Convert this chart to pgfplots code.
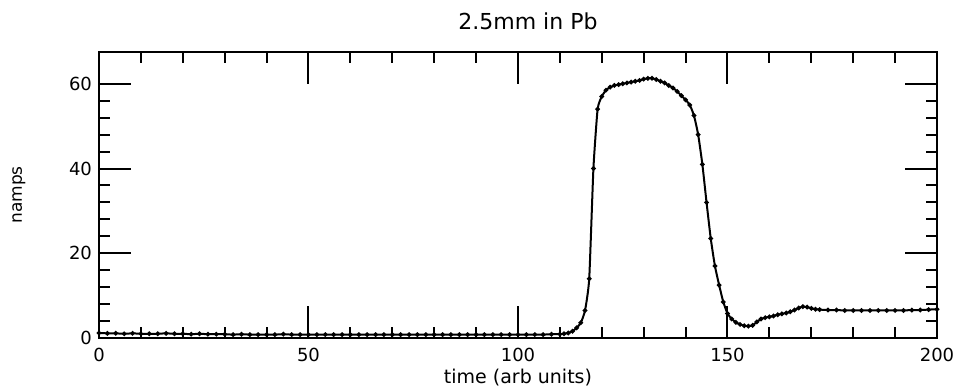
\documentclass[border=0pt]{standalone}
\usepackage{pgfplots}
\pgfplotsset{compat=1.18}
\usepackage{fontspec}
\setmainfont{DejaVu Sans}
\begin{document}
\begin{tikzpicture}
\useasboundingbox (-49.5pt,-25pt) rectangle (430.5pt,169pt);
\begin{axis}[
  scale only axis, width=419pt, height=143pt,
  at={(0pt,0pt)}, anchor=south west,
  xmin=0, xmax=200, ymin=0, ymax=67.5,
  xtick={0,50,100,150,200}, minor x tick num=4,
  ytick={0,20,40,60}, minor y tick num=4,
  major tick length=16pt, minor tick length=5.5pt,
  tick style={line width=1pt, black},
  axis line style={line width=1pt},
  tick align=inside,
  /pgf/number format/assume math mode=true,
  xticklabel style={font=\fontsize{9}{10}\selectfont, anchor=center, yshift=-8.5pt},
  yticklabel style={font=\fontsize{9}{10}\selectfont},
  clip=false,
]
\addplot[black, line width=1pt, smooth, tension=0.3, mark=*, mark size=0.6pt] table {
x y
0 1.2
2 1.1
4 1.1
6 1.0
8 1.1
10 1.0
12 1.0
14 1.0
16 1.1
18 1.0
20 1.0
22 0.9
24 1.0
26 0.9
28 0.9
30 0.9
32 0.8
34 0.9
36 0.8
38 0.8
40 0.8
42 0.8
44 0.9
46 0.8
48 0.8
50 0.8
52 0.8
54 0.8
56 0.8
58 0.8
60 0.8
62 0.8
64 0.8
66 0.8
68 0.8
70 0.8
72 0.8
74 0.8
76 0.8
78 0.8
80 0.8
82 0.8
84 0.8
86 0.8
88 0.8
90 0.8
92 0.8
94 0.8
96 0.8
98 0.8
100 0.8
102 0.8
104 0.8
106 0.8
108 0.9
110 0.9
111 1.0
112 1.2
113 1.6
114 2.4
115 3.6
116 6.5
117 14
118 40
119 54
120 57
121 58.5
122 59.2
123 59.6
124 59.8
125 60.0
126 60.2
127 60.4
128 60.6
129 60.8
130 61.1
131 61.3
132 61.3
133 61.0
134 60.6
135 60.2
136 59.6
137 59.0
138 58.2
139 57.2
140 56.2
141 55.0
142 52.5
143 48
144 41
145 32
146 23.5
147 17
148 12.5
149 8.5
150 5.8
151 4.5
152 3.7
153 3.2
154 2.9
155 2.8
156 3.0
157 3.8
158 4.5
159 4.8
160 5.0
161 5.2
162 5.5
163 5.7
164 5.9
165 6.2
166 6.6
167 7.1
168 7.4
169 7.3
170 7.0
171 6.8
172 6.7
174 6.6
176 6.6
178 6.5
180 6.5
182 6.5
184 6.5
186 6.5
188 6.5
190 6.5
192 6.5
194 6.6
196 6.6
198 6.7
200 6.8
};
\end{axis}
\node[font=\fontsize{11}{12}\selectfont] at (214.5pt,158.5pt) {2.5mm in Pb};
\node[font=\fontsize{9.5}{11}\selectfont] at (209.5pt,-20pt) {time (arb units)};
\node[font=\fontsize{8.5}{10}\selectfont, rotate=90] at (-40pt,71.5pt) {namps};
\end{tikzpicture}
\end{document}
